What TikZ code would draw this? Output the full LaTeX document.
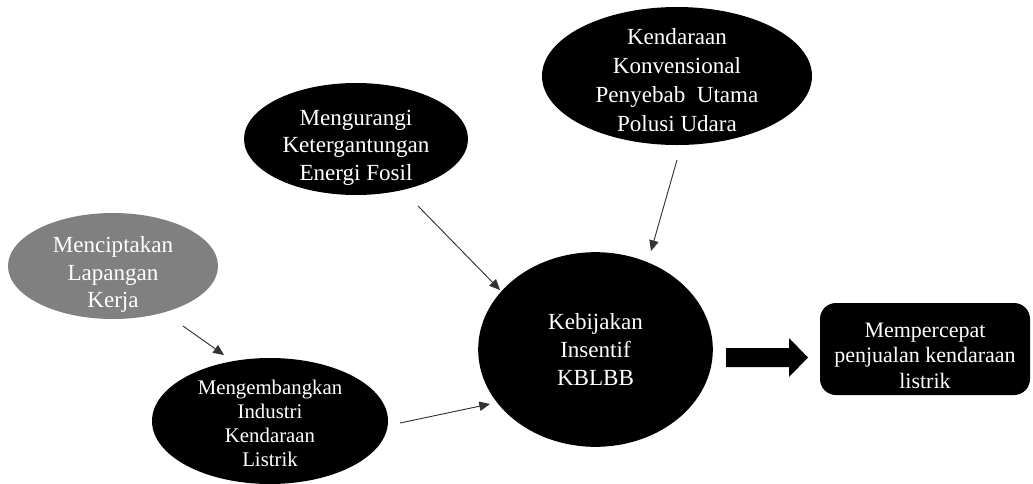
\documentclass[tikz,border=0pt]{standalone}
\usepackage{fontspec}
\setmainfont{Liberation Serif}
\usetikzlibrary{shapes.geometric,arrows.meta}
\begin{document}
\begin{tikzpicture}[x=0.75pt,y=-0.75pt,
  bubble/.style={ellipse,fill=black,inner sep=0pt},
  txt/.style={text=white,inner sep=0pt,align=center,font=\fontsize{17.3}{20.8}\selectfont},
  conn/.style={draw=black!80,line width=0.7pt,-{Triangle[length=8pt,width=7pt]}}]
\useasboundingbox (0,0) rectangle (1033,483);
% shapes
\node[bubble,fill=black!50,minimum width=157.5pt,minimum height=79.5pt] (n1) at (113,266) {};
\node[bubble,minimum width=168pt,minimum height=84pt] (n2) at (356,139) {};
\node[bubble,minimum width=202.5pt,minimum height=103.5pt] (n3) at (677,76) {};
\node[bubble,minimum width=176pt,minimum height=146pt] (n4) at (595.5,349.5) {};
\node[bubble,minimum width=177pt,minimum height=94.5pt] (n5) at (270,421) {};
\node[rectangle,rounded corners=12pt,fill=black,inner sep=0pt,
  minimum width=157.5pt,minimum height=69pt] (r) at (925,349) {};
% texts
\node[txt] (t1) at ([yshift=-6.5pt]n1.center) {Menciptakan\\Lapangan\\Kerja};
\node[txt] (t2) at ([yshift=-6.5pt]n2.center) {Mengurangi\\Ketergantungan\\Energi Fosil};
\node[txt,font=\fontsize{17.3}{21.7}\selectfont] (t3) at ([yshift=-3pt]n3.center)
  {Kendaraan\\Konvensional\\Penyebab\ \ Utama\\Polusi Udara};
\node[txt] (t4) at (n4.center) {Kebijakan\\Insentif\\KBLBB};
\node[txt,font=\fontsize{15.6}{18}\selectfont] (t5) at ([yshift=-2pt]n5.center)
  {Mengembangkan\\Industri\\Kendaraan\\Listrik};
\node[txt,font=\fontsize{16.5}{19}\selectfont] (t6) at ([yshift=-5pt]r.center)
  {Mempercepat\\penjualan kendaraan\\listrik};
% connectors
\coordinate (a1s) at (418,206); \coordinate (a1e) at (500,290);
\coordinate (a2s) at (400,423); \coordinate (a2e) at (490,404);
\coordinate (a3s) at (183,326); \coordinate (a3e) at (224,355);
\coordinate (a4s) at (677,160); \coordinate (a4e) at (651,251);
\draw[conn] (a1s) -- (a1e);
\draw[conn] (a2s) -- (a2e);
\draw[conn] (a3s) -- (a3e);
\draw[conn] (a4s) -- (a4e);
\fill[black] (726,348) -- (789,348) -- (789,338) -- (808,357.5) -- (789,377) -- (789,367) -- (726,367) -- cycle;
\end{tikzpicture}
\end{document}
